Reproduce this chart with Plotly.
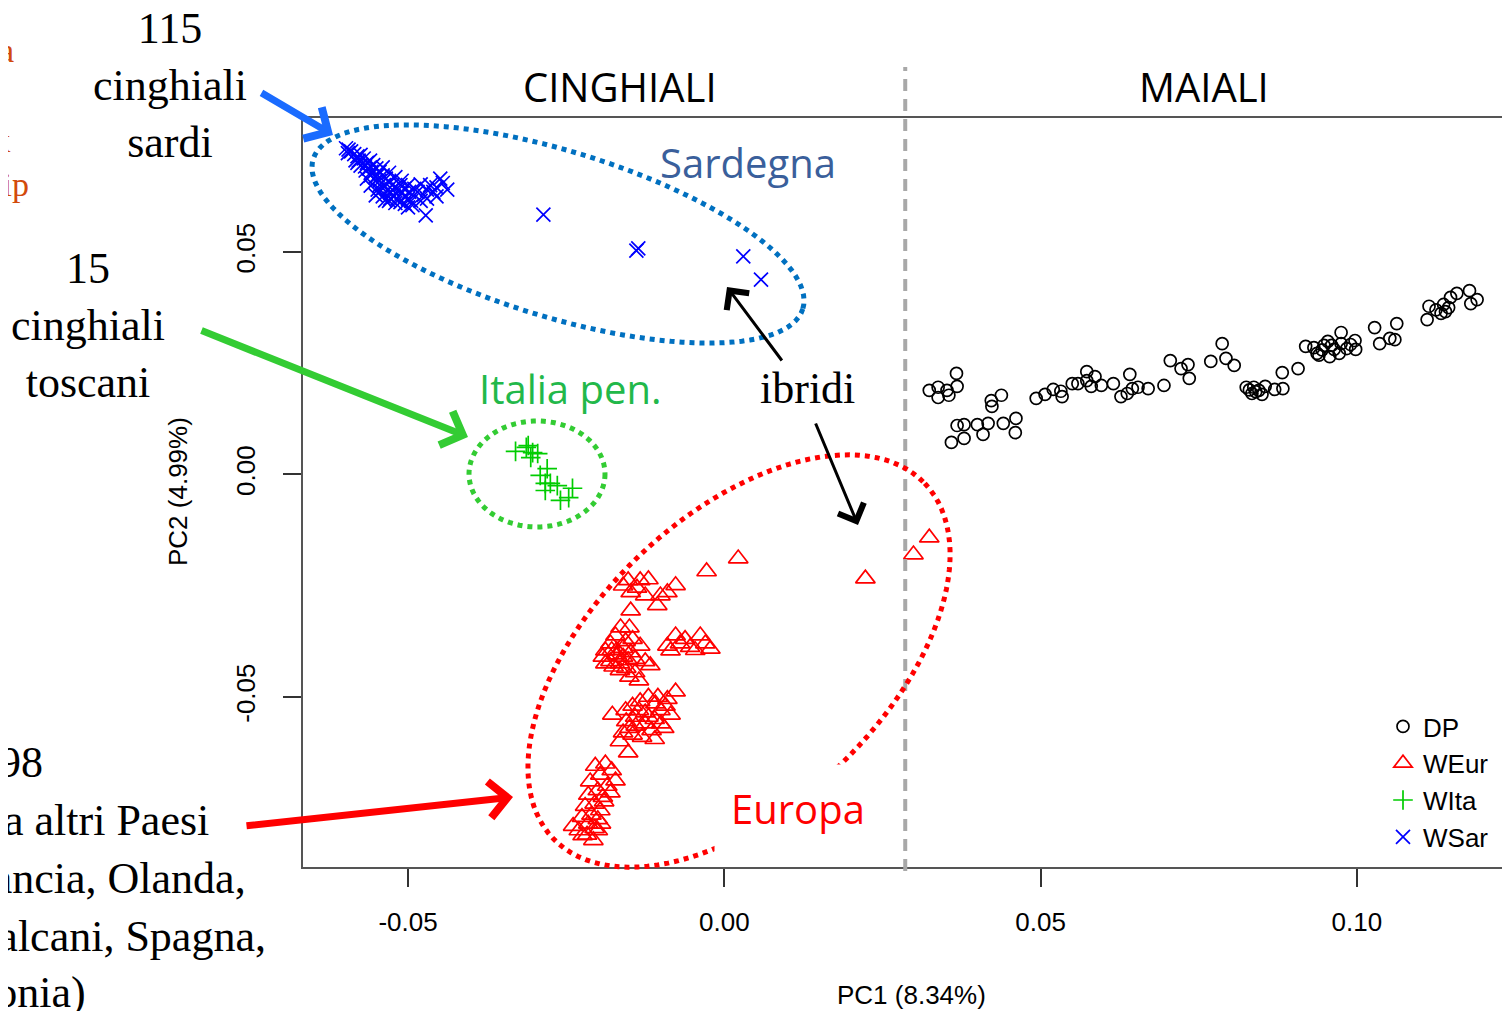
import math
import plotly.graph_objects as go

# ---------------- data (PC1, PC2) ----------------
DP = [
    (0.0324, 0.0189), (0.0338, 0.0196), (0.0338, 0.0173), (0.0352, 0.0189), (0.0355, 0.0178),
    (0.0367, 0.0227), (0.0368, 0.0198), (0.0422, 0.0166), (0.0423, 0.0153), (0.0438, 0.0178),
    (0.0368, 0.0110), (0.0379, 0.0112), (0.0400, 0.0112), (0.0417, 0.0115), (0.0441, 0.0115),
    (0.0461, 0.0126), (0.0460, 0.0094), (0.0359, 0.0072), (0.0379, 0.0081), (0.0409, 0.0090),
    (0.0493, 0.0171), (0.0507, 0.0180), (0.0520, 0.0191), (0.0534, 0.0175), (0.0532, 0.0187),
    (0.0550, 0.0204), (0.0559, 0.0204), (0.0573, 0.0231), (0.0573, 0.0211), (0.0586, 0.0220),
    (0.0580, 0.0198), (0.0596, 0.0200), (0.0615, 0.0204), (0.0641, 0.0225), (0.0627, 0.0175),
    (0.0637, 0.0182), (0.0645, 0.0193), (0.0654, 0.0196), (0.0670, 0.0193), (0.0695, 0.0200),
    (0.0705, 0.0256), (0.0722, 0.0238), (0.0733, 0.0247), (0.0735, 0.0216), (0.0769, 0.0254),
    (0.0787, 0.0294), (0.0793, 0.0261), (0.0806, 0.0245), (0.0825, 0.0196), (0.0834, 0.0182),
    (0.0837, 0.0196), (0.0845, 0.0189), (0.0855, 0.0198), (0.0870, 0.0191), (0.0883, 0.0193),
    (0.0840, 0.0186), (0.0850, 0.0180), (0.0830, 0.0190),
    (0.0882, 0.0229), (0.0907, 0.0238), (0.0919, 0.0288), (0.0937, 0.0272), (0.0948, 0.0290),
    (0.0954, 0.0299), (0.0964, 0.0281), (0.0975, 0.0319), (0.0975, 0.0294), (0.0984, 0.0283),
    (0.0997, 0.0301), (0.0998, 0.0281), (0.0957, 0.0265), (0.0972, 0.0272), (0.0932, 0.0285),
    (0.0945, 0.0280), (0.0960, 0.0290), (0.0990, 0.0292), (0.0940, 0.0268),
    (0.1028, 0.0330), (0.1036, 0.0294), (0.1052, 0.0306), (0.1063, 0.0339), (0.1060, 0.0303),
    (0.1111, 0.0348), (0.1114, 0.0378), (0.1133, 0.0362), (0.1137, 0.0382), (0.1148, 0.0398),
    (0.1158, 0.0407), (0.1178, 0.0413), (0.1180, 0.0384), (0.1190, 0.0393), (0.1145, 0.0375),
    (0.1125, 0.0370), (0.1140, 0.0366),
]

WEUR = [
    (0.0022, -0.0189), (-0.0028, -0.0218), (0.0223, -0.0234), (0.0299, -0.0180), (0.0324, -0.0142),
    (-0.0152, -0.0238), (-0.0133, -0.0238), (-0.0120, -0.0236), (-0.0077, -0.0249), (-0.0090, -0.0265),
    (-0.0101, -0.0272), (-0.0148, -0.0265), (-0.0125, -0.0272), (-0.0106, -0.0294), (-0.0148, -0.0306),
    (-0.0138, -0.0255), (-0.0160, -0.0250),
    (-0.0077, -0.0362), (-0.0062, -0.0370), (-0.0038, -0.0362), (-0.0022, -0.0392), (-0.0054, -0.0388),
    (-0.0085, -0.0396), (-0.0030, -0.0380), (-0.0070, -0.0380), (-0.0046, -0.0395), (-0.0090, -0.0385),
    (-0.0164, -0.0344), (-0.0150, -0.0344), (-0.0172, -0.0362), (-0.0180, -0.0380), (-0.0188, -0.0396),
    (-0.0192, -0.0410), (-0.0180, -0.0420), (-0.0170, -0.0405), (-0.0160, -0.0390), (-0.0156, -0.0375),
    (-0.0148, -0.0400), (-0.0141, -0.0415), (-0.0165, -0.0425), (-0.0155, -0.0435), (-0.0175, -0.0432),
    (-0.0188, -0.0425), (-0.0133, -0.0385), (-0.0125, -0.0420), (-0.0117, -0.0429), (-0.0141, -0.0445),
    (-0.0150, -0.0455), (-0.0135, -0.0463), (-0.0160, -0.0410), (-0.0170, -0.0395), (-0.0145, -0.0370),
    (-0.0165, -0.0440), (-0.0178, -0.0395), (-0.0152, -0.0418),
    (-0.0077, -0.0488), (-0.0120, -0.0500), (-0.0133, -0.0510), (-0.0145, -0.0520), (-0.0177, -0.0540),
    (-0.0156, -0.0530), (-0.0141, -0.0545), (-0.0125, -0.0535), (-0.0109, -0.0515), (-0.0101, -0.0530),
    (-0.0093, -0.0520), (-0.0085, -0.0540), (-0.0110, -0.0550), (-0.0125, -0.0560), (-0.0140, -0.0565),
    (-0.0150, -0.0570), (-0.0160, -0.0580), (-0.0145, -0.0585), (-0.0130, -0.0590), (-0.0115, -0.0575),
    (-0.0100, -0.0560), (-0.0095, -0.0570), (-0.0120, -0.0545), (-0.0135, -0.0530), (-0.0155, -0.0555),
    (-0.0105, -0.0500), (-0.0090, -0.0505), (-0.0152, -0.0625), (-0.0165, -0.0600), (-0.0110, -0.0595),
    (-0.0204, -0.0655), (-0.0188, -0.0650), (-0.0178, -0.0665), (-0.0196, -0.0675), (-0.0212, -0.0690),
    (-0.0172, -0.0688), (-0.0185, -0.0700), (-0.0200, -0.0710), (-0.0215, -0.0720), (-0.0192, -0.0725),
    (-0.0205, -0.0740), (-0.0220, -0.0745), (-0.0196, -0.0755), (-0.0210, -0.0765), (-0.0200, -0.0775),
    (-0.0215, -0.0785), (-0.0205, -0.0795), (-0.0230, -0.0800), (-0.0217, -0.0810), (-0.0200, -0.0800),
    (-0.0239, -0.0790), (-0.0224, -0.0811), (-0.0207, -0.0822), (-0.0190, -0.0735), (-0.0180, -0.0715),
    (-0.0225, -0.0770), (-0.0195, -0.0785),
]

WITA = [
    (-0.0330, 0.0052), (-0.0313, 0.0061), (-0.0310, 0.0065), (-0.0303, 0.0049), (-0.0295, 0.0047),
    (-0.0306, 0.0038), (-0.0280, 0.0013), (-0.0291, -0.0002), (-0.0283, -0.0020), (-0.0275, -0.0020),
    (-0.0264, -0.0025), (-0.0283, -0.0036), (-0.0240, -0.0031), (-0.0259, -0.0058), (-0.0246, -0.0052),
]

WSAR = [
    (-0.0598, 0.0733), (-0.0594, 0.0730), (-0.0590, 0.0726), (-0.0595, 0.0722), (-0.0585, 0.0720),
    (-0.0580, 0.0715), (-0.0575, 0.0718), (-0.0570, 0.0710), (-0.0578, 0.0705), (-0.0565, 0.0700),
    (-0.0560, 0.0705), (-0.0555, 0.0695), (-0.0568, 0.0692), (-0.0550, 0.0688), (-0.0545, 0.0680),
    (-0.0558, 0.0680), (-0.0540, 0.0672), (-0.0552, 0.0668), (-0.0535, 0.0665), (-0.0545, 0.0660),
    (-0.0530, 0.0658), (-0.0525, 0.0650), (-0.0538, 0.0650), (-0.0520, 0.0645), (-0.0532, 0.0640),
    (-0.0515, 0.0640), (-0.0528, 0.0632), (-0.0510, 0.0632), (-0.0522, 0.0625), (-0.0505, 0.0625),
    (-0.0518, 0.0618), (-0.0500, 0.0620), (-0.0512, 0.0612), (-0.0495, 0.0615), (-0.0505, 0.0608),
    (-0.0540, 0.0690), (-0.0530, 0.0678), (-0.0520, 0.0668), (-0.0510, 0.0660), (-0.0500, 0.0650),
    (-0.0490, 0.0642), (-0.0480, 0.0652), (-0.0485, 0.0635), (-0.0475, 0.0628), (-0.0470, 0.0640),
    (-0.0465, 0.0650), (-0.0460, 0.0635), (-0.0455, 0.0645), (-0.0449, 0.0665), (-0.0445, 0.0655),
    (-0.0438, 0.0640), (-0.0455, 0.0625), (-0.0470, 0.0620), (-0.0480, 0.0615), (-0.0493, 0.0605),
    (-0.0540, 0.0625), (-0.0548, 0.0640), (-0.0530, 0.0615), (-0.0520, 0.0610), (-0.0500, 0.0600),
    (-0.0580, 0.0700), (-0.0548, 0.0672), (-0.0562, 0.0688), (-0.0512, 0.0650), (-0.0498, 0.0635),
    (-0.0525, 0.0640), (-0.0506, 0.0642),
    (-0.0583, 0.0706), (-0.0575, 0.0694), (-0.0567, 0.0683), (-0.0559, 0.0672), (-0.0559, 0.0649),
    (-0.0551, 0.0627), (-0.0543, 0.0638), (-0.0536, 0.0616), (-0.0551, 0.0660), (-0.0565, 0.0665),
    (-0.0545, 0.0650), (-0.0528, 0.0620),
    (-0.0472, 0.0582), (-0.0286, 0.0584), (-0.0139, 0.0503), (-0.0136, 0.0508), (0.0030, 0.0490),
    (0.0058, 0.0438),
]

X_TICKS = [-0.05, 0.00, 0.05, 0.10]
X_TICKTEXT = ["-0.05", "0.00", "0.05", "0.10"]
Y_TICKS = [-0.05, 0.00, 0.05]
Y_TICKTEXT = ["-0.05", "0.00", "0.05"]
X_RANGE = [-0.0666, 0.1242]
Y_RANGE = [-0.0882, 0.0801]
SPLIT_PC1 = 0.0286   # boundary between wild boars and pigs

# ---------------- layout geometry ----------------
# page body has an 8px margin, so the figure is laid out 8px smaller / shifted
OFF = 8
W, H = 1502, 1003
ML, MT, MR, MB = 295, 110, 0, 144
PW, PH = W - ML - MR, H - MT - MB


def px(x):
    """page pixel x -> paper fraction"""
    return (x - OFF - ML) / PW


def py(y):
    """page pixel y -> paper fraction"""
    return (H - MB - (y - OFF)) / PH


def ellipse_path(cx, cy, a, b, deg, n=120):
    t = math.radians(deg)
    pts = []
    for i in range(n + 1):
        u = 2 * math.pi * i / n
        x = cx + a * math.cos(t) * math.cos(u) - b * math.sin(t) * math.sin(u)
        y = cy + a * math.sin(t) * math.cos(u) + b * math.cos(t) * math.sin(u)
        pts.append((px(x), py(y)))
    return "M" + " L".join(f"{x:.5f},{y:.5f}" for x, y in pts) + " Z"


SANS = "Liberation Sans"
SERIF = "Liberation Serif"
SLIDE = "Open Sans"

fig = go.Figure()

series = [
    ("DP", DP, "circle-open", 12, "#000000"),
    ("WEur", WEUR, "triangle-up-open", 17, "#FF0000"),
    ("WIta", WITA, "cross-thin-open", 14, "#00CC00"),
    ("WSar", WSAR, "x-thin-open", 14, "#0000FF"),
]
for name, pts, sym, size, col in series:
    fig.add_trace(go.Scatter(
        x=[p[0] for p in pts], y=[p[1] for p in pts], mode="markers", name=name,
        marker=dict(symbol=sym, size=size, color=col, line=dict(color=col, width=1.7)),
        hoverinfo="skip",
    ))

split_xp = (SPLIT_PC1 - X_RANGE[0]) / (X_RANGE[1] - X_RANGE[0])
shapes = [
    dict(type="line", xref="paper", yref="paper", x0=split_xp, x1=split_xp,
         y0=py(871), y1=py(67), line=dict(color="#A8A8A8", width=4, dash="12px,8px")),
    dict(type="path", xref="paper", yref="paper", path=ellipse_path(558, 234, 256, 83, 17),
         line=dict(color="#0070C0", width=5, dash="5px,5px")),
    dict(type="path", xref="paper", yref="paper", path=ellipse_path(537, 474, 68, 53, 0),
         line=dict(color="#33CC33", width=5, dash="5px,5px")),
    dict(type="path", xref="paper", yref="paper", path=ellipse_path(739, 661, 257, 145, -43.7),
         line=dict(color="#FF0000", width=5, dash="5px,5px")),
]

ann = []


def text(t, x, y, size, color="#000000", family=SLIDE, xanchor="center", **kw):
    ann.append(dict(text=t, x=px(x), y=py(y), xref="paper", yref="paper", showarrow=False,
                    xanchor=xanchor, yanchor="middle",
                    font=dict(family=family, size=size, color=color), **kw))


def arrow(x0, y0, x1, y1, color, width, size):
    ann.append(dict(text="", x=px(x1), y=py(y1), xref="paper", yref="paper",
                    ax=x0 - x1, ay=y0 - y1, axref="pixel", ayref="pixel",
                    showarrow=True, arrowhead=4, arrowsize=size, arrowwidth=width,
                    arrowcolor=color, standoff=0))


text("CINGHIALI", 620, 87, 40)
text("MAIALI", 1204, 87, 40)
text("Sardegna", 748, 162, 40, "#3A5F9B")
text("Italia pen.", 570, 388, 40, "#22B84A")
text("Europa", 798, 808, 40, "#FF0000", bgcolor="#FFFFFF", borderpad=16)
text("ibridi", 807, 388, 44, family=SERIF)
text("115<br>cinghiali<br>sardi", 170, 86, 44, family=SERIF)
text("15<br>cinghiali<br>toscani", 88, 325, 44, family=SERIF)
for t, xr, yy in [("198", 45, 762), ("da altri Paesi", 211, 820), ("(Francia, Olanda,", 248, 878),
                  ("Balcani, Spagna,", 268, 936), ("(Polonia)", 88, 992)]:
    text(t, xr, yy, 44, family=SERIF, xanchor="right")
for t, xr, yy in [("Illumina", 16, 50), ("Porcine", 5, 95), ("SNP60k", 12, 140), ("BeadChip", 31, 185)]:
    text(t, xr, yy, 34, "#D24A0C", family=SERIF, xanchor="right")
text("PC1 (8.34%)", 911, 995, 26, family=SANS)
text("PC2 (4.99%)", 178, 492, 26, family=SANS, textangle=-90)

arrow(260, 92, 333, 135, "#1A6BFF", 7, 1.0)
arrow(200, 330, 468, 437, "#33CC33", 7, 1.0)
arrow(245, 826, 513, 797, "#FF0000", 7, 1.0)
arrow(783, 362, 727, 287, "#000000", 3, 1.8)
arrow(815, 422, 858, 525, "#000000", 3, 1.8)

fig.update_layout(
    width=W, height=H,
    margin=dict(l=ML, r=MR, t=MT, b=MB, autoexpand=False),
    paper_bgcolor="#FFFFFF", plot_bgcolor="#FFFFFF",
    shapes=shapes, annotations=ann,
    legend=dict(x=px(1383), y=py(703), xanchor="left", yanchor="top",
                font=dict(family=SANS, size=26, color="#000000"),
                bgcolor="rgba(0,0,0,0)", itemwidth=30, tracegroupgap=0),
    showlegend=True,
)
fig.update_xaxes(range=X_RANGE, tickvals=X_TICKS, ticktext=X_TICKTEXT, showgrid=False,
                 zeroline=False, showline=True, mirror=True, linecolor="#555555", linewidth=2,
                 ticks="outside", ticklen=18, tickwidth=1.5, tickcolor="#333333",
                 ticklabelstandoff=13, tickfont=dict(family=SANS, size=26, color="#000000"))
fig.update_yaxes(range=Y_RANGE, tickvals=Y_TICKS, ticktext=Y_TICKTEXT, showgrid=False,
                 zeroline=False, showline=True, mirror=False, linecolor="#555555", linewidth=2,
                 ticks="outside", ticklen=18, tickwidth=1.5, tickcolor="#333333",
                 tickangle=-90, ticklabelstandoff=18,
                 tickfont=dict(family=SANS, size=26, color="#000000"))

fig.write_html("out.html")
